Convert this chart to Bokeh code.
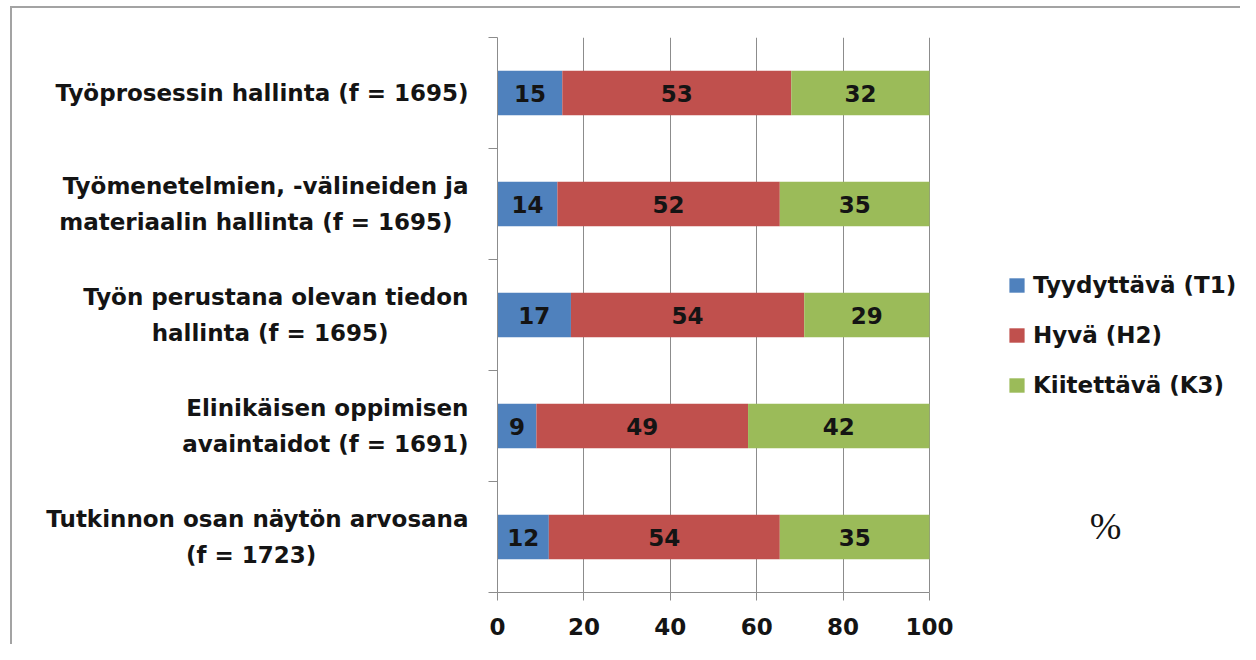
from bokeh.plotting import figure
from bokeh.models import Range1d, FixedTicker, Legend, LegendItem, Label, ColumnDataSource
from bokeh.core.properties import value
from bokeh.embed import file_html
from bokeh.resources import INLINE

# ---------------- data ----------------
categories = [
    "Työprosessin hallinta (f = 1695)",
    "Työmenetelmien, -välineiden ja\nmateriaalin hallinta (f = 1695)",
    "Työn perustana olevan tiedon\nhallinta (f = 1695)",
    "Elinikäisen oppimisen\navaintaidot (f = 1691)",
    "Tutkinnon osan näytön arvosana\n(f = 1723)",
]
series_names = ["Tyydyttävä (T1)", "Hyvä (H2)", "Kiitettävä (K3)"]
t1 = [15, 14, 17, 9, 12]
h2 = [53, 52, 54, 49, 54]
k3 = [32, 35, 29, 42, 35]
x_ticks = [0, 20, 40, 60, 80, 100]
unit_label = "%"

# ---------------- style ----------------
colors = ["#4F81BD", "#C0504D", "#9BBB59"]
axis_col = "#8c8c8c"
FONT = "DejaVu Sans"
# trailing no-break spaces so that the 2nd line of a label sits centred under the 1st
second_line_pad = [0, 2, 10, 0, 19]

series = [t1, h2, k3]
n = len(categories)
ys = [n - 0.5 - i for i in range(n)]
totals = [sum(v[i] for v in series) for i in range(n)]


def centred(label, pad):
    if "\n" not in label:
        return label
    a, b = label.split("\n")
    return a + "\n" + b + "\u00a0" * pad


W, H = 1240, 644
frame_left, frame_top, frame_bottom = 497, 37, 592
px_per_unit = 4.32
x_end = (W - frame_left) / px_per_unit
y_px_per_unit = (frame_bottom - frame_top) / n

p = figure(width=W, height=H, output_backend="svg", toolbar_location=None,
           x_range=Range1d(0, x_end), y_range=Range1d(0, n),
           min_border_left=frame_left, min_border_right=0,
           min_border_top=frame_top, min_border_bottom=H - frame_bottom)
p.outline_line_color = None
p.background_fill_color = "white"
p.border_fill_color = None
# outer chart-area border (only its top and left edges are inside the reference crop)
p.styles = {
    "background": "linear-gradient(#a3a3a3, #a3a3a3) 10px 6px / 2px 100% no-repeat, "
                  "linear-gradient(#a3a3a3, #a3a3a3) 10px 6px / 100% 2px no-repeat, white"
}

renderers = []
cum = [0.0] * n
for name, vals, col in zip(series_names, series, colors):
    shares = [vals[i] / totals[i] * 100 for i in range(n)]
    left = cum[:]
    right = [cum[i] + shares[i] for i in range(n)]
    src = ColumnDataSource(dict(y=ys, left=left, right=right,
                                mid=[(l + r) / 2 for l, r in zip(left, right)],
                                lab=[str(v) for v in vals]))
    r = p.hbar(y="y", left="left", right="right", height=0.4, source=src,
               fill_color=col, line_color=None)
    p.text(x="mid", y="y", text="lab", source=src, text_align="center",
           text_baseline="middle", text_font=value(FONT), text_font_style="bold",
           text_font_size="23px", text_color="#141414")
    renderers.append(r)
    cum = right

# x axis
xa = p.xaxis[0]
xa.ticker = FixedTicker(ticks=x_ticks)
xa.bounds = (0, 100)
xa.axis_line_color = axis_col
xa.major_tick_line_color = axis_col
xa.major_tick_out = 8
xa.major_tick_in = 0
xa.minor_tick_line_color = None
xa.major_label_text_font = FONT
xa.major_label_text_font_style = "bold"
xa.major_label_text_font_size = "23px"
xa.major_label_text_color = "#141414"
xa.major_label_standoff = 17

# y axis
ya = p.yaxis[0]
ya.ticker = FixedTicker(ticks=ys, minor_ticks=list(range(n + 1)))
ya.major_label_overrides = {y: centred(c, pd) for y, c, pd in zip(ys, categories, second_line_pad)}
ya.axis_line_color = axis_col
ya.major_tick_out = 0
ya.major_tick_in = 0
ya.minor_tick_out = 9
ya.minor_tick_in = 0
ya.minor_tick_line_color = axis_col
ya.major_label_text_font = FONT
ya.major_label_text_font_style = "bold"
ya.major_label_text_font_size = "23px"
ya.major_label_text_line_height = 1.35
ya.major_label_text_color = "#141414"
ya.major_label_standoff = 20

p.xgrid.ticker = FixedTicker(ticks=x_ticks)
p.xgrid.grid_line_color = axis_col
p.ygrid.grid_line_color = None

legend = Legend(items=[LegendItem(label=nm, renderers=[r]) for nm, r in zip(series_names, renderers)],
                location=(510, 192), orientation="vertical",
                glyph_width=19, glyph_height=18, label_standoff=7,
                label_height=30, spacing=20, padding=0, margin=0,
                border_line_color=None, background_fill_alpha=0,
                label_text_font=FONT, label_text_font_style="bold",
                label_text_font_size="23px", label_text_color="#141414")
p.add_layout(legend)

p.add_layout(Label(x=(1105 - frame_left) / px_per_unit,
                   y=(frame_bottom - 525) / y_px_per_unit, text=unit_label,
                   text_align="center", text_baseline="middle",
                   text_font="Liberation Serif", text_font_size="38px",
                   text_color="#141414"))

open("out.html", "w").write(file_html(p, INLINE))
